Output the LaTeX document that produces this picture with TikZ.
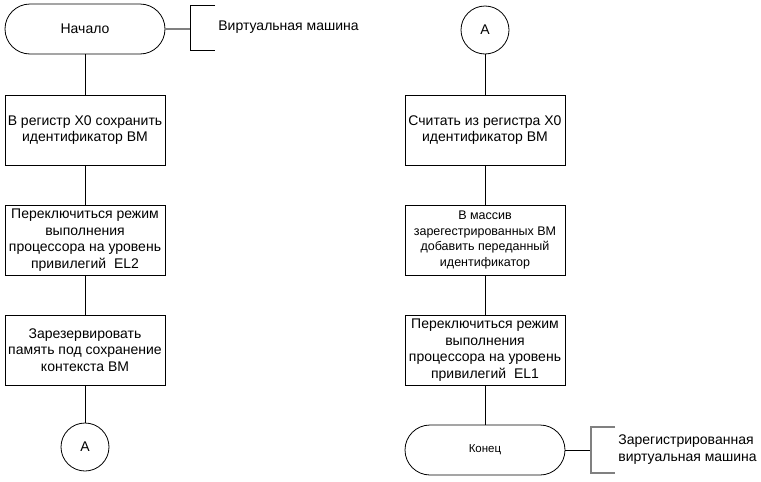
\documentclass[tikz,border=0pt]{standalone}
\usepackage{fontspec}
\setmainfont{Liberation Sans}
\tikzset{
  term/.style={draw,rounded corners=25pt,minimum width=160pt,minimum height=50pt,inner sep=0pt},
  proc/.style={draw,minimum width=160pt,minimum height=70pt,align=center,inner sep=1pt,font=\fontsize{14}{16.6}\selectfont},
  conn/.style={draw,circle,minimum size=48pt,inner sep=0pt,font=\fontsize{14}{16}\selectfont},
  note/.style={anchor=west,align=left,inner sep=0pt,font=\fontsize{14}{17}\selectfont}
}
\begin{document}
\begin{tikzpicture}[x=1pt,y=-1pt,line width=0.8pt]
  \useasboundingbox (0,0) rectangle (761,482);
  % left column
  \node[term,font=\fontsize{14}{16}\selectfont] (start) at (85,29) {Начало};
  \node[proc] (save) at (85,130) {В регистр X0 сохранить\\идентификатор ВМ};
  \node[proc] (el2) at (85,240) {Переключиться режим\\выполнения\\процессора на уровень\\привилегий\ \ EL2};
  \node[proc] (mem) at (85,350) {Зарезервировать\\память под сохранение\\контекста ВМ};
  \node[conn] (outA) at (85,447) {A};
  \draw (start) -- (save);
  \draw (save) -- (el2);
  \draw (el2) -- (mem);
  \draw (mem) -- (outA);
  % right column
  \node[conn] (inA) at (485,30) {A};
  \node[proc] (read) at (485,130) {Считать из регистра X0\\идентификатор ВМ};
  \node[proc,font=\fontsize{12.5}{15.6}\selectfont] (add) at (485,240) {В массив\\зарегестрированных ВМ\\добавить переданный\\идентификатор};
  \node[proc] (el1) at (485,350) {Переключиться режим\\выполнения\\процессора на уровень\\привилегий\ \ EL1};
  \node[term,font=\fontsize{11.5}{14}\selectfont] (stop) at (485,450) {Конец};
  \draw (inA) -- (read);
  \draw (read) -- (add);
  \draw (add) -- (el1);
  \draw (el1) -- (stop);
  % annotations
  \coordinate (vm) at (190,29);
  \draw[gray,line width=1.3pt] (start.east) -- (vm);
  \draw (215,5) -- (190,5) -- (190,50) -- (215,50);
  \node[note] (vmtext) at (218,27) {Виртуальная машина};
  \coordinate (reg) at (591,450);
  \draw (stop.east) -- (reg);
  \draw[gray,line width=1.3pt] (615,427) -- (591,427) -- (591,473) -- (615,473);
  \node[note] (regtext) at (618,450) {Зарегистрированная\\виртуальная машина};
\end{tikzpicture}
\end{document}
